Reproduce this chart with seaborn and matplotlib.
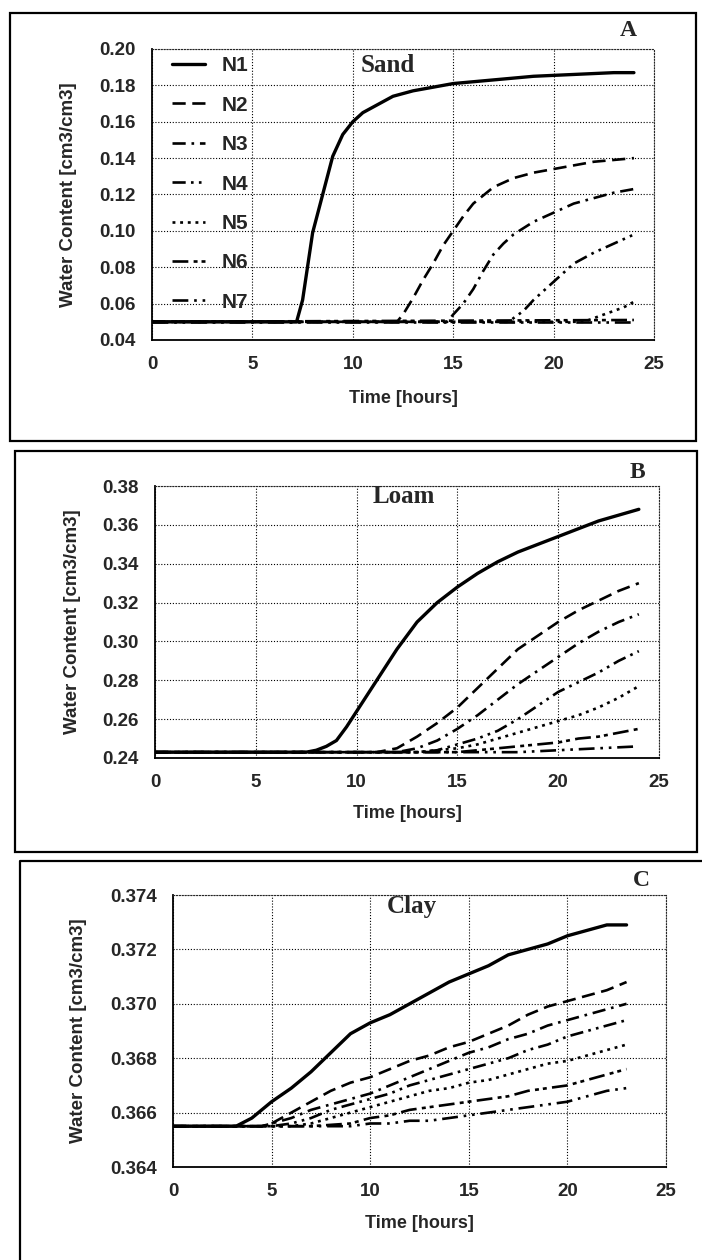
"""Water content curves for sand, loam and clay (three stacked panels)."""

import matplotlib.pyplot as plt
import pandas as pd
import seaborn as sns
from matplotlib.patches import Rectangle
from matplotlib.lines import Line2D

NODES = ["N1", "N2", "N3", "N4", "N5", "N6", "N7"]

# --- Sand ---
sand_n1_t = [0, 7.2, 7.5, 8, 8.5, 9, 9.5, 10, 10.5, 11, 12, 13, 14, 15, 16, 17, 18, 19, 20, 21, 22, 23, 24]
sand_n1 = [0.050, 0.050, 0.062, 0.099, 0.120, 0.141, 0.153, 0.160, 0.165, 0.168, 0.174, 0.177,
           0.179, 0.181, 0.182, 0.183, 0.184, 0.185, 0.1855, 0.186, 0.1865, 0.187, 0.187]
sand_n2_t = [0, 12.2, 12.5, 13, 13.5, 14, 14.5, 15, 15.5, 16, 17, 18, 19, 20, 21, 22, 23, 24]
sand_n2 = [0.050, 0.050, 0.054, 0.063, 0.073, 0.082, 0.092, 0.100, 0.108, 0.115, 0.124, 0.129,
           0.132, 0.134, 0.136, 0.138, 0.139, 0.140]
sand_n3_t = [0, 14.7, 15, 15.5, 16, 16.5, 17, 17.5, 18, 19, 20, 21, 22, 23, 24]
sand_n3 = [0.050, 0.050, 0.054, 0.060, 0.068, 0.078, 0.087, 0.093, 0.098, 0.105, 0.110, 0.115,
           0.118, 0.121, 0.123]
sand_n4_t = [0, 17.8, 18, 18.5, 19, 19.5, 20, 20.5, 21, 22, 23, 24]
sand_n4 = [0.050, 0.050, 0.052, 0.056, 0.062, 0.067, 0.072, 0.077, 0.082, 0.088, 0.093, 0.098]
sand_n5_t = [0, 21.5, 22, 22.5, 23, 23.5, 24]
sand_n5 = [0.050, 0.050, 0.052, 0.054, 0.056, 0.058, 0.061]
sand_n6_t = [0, 24]
sand_n6 = [0.050, 0.051]
sand_n7_t = [0, 24]
sand_n7 = [0.050, 0.050]

# --- Loam ---
loam_n1_t = [0, 7.5, 8, 8.5, 9, 9.5, 10, 10.5, 11, 11.5, 12, 13, 14, 15, 16, 17, 18, 19, 20, 21, 22, 23, 24]
loam_n1 = [0.243, 0.243, 0.244, 0.246, 0.249, 0.256, 0.264, 0.272, 0.280, 0.288, 0.296, 0.310,
           0.320, 0.328, 0.335, 0.341, 0.346, 0.350, 0.354, 0.358, 0.362, 0.365, 0.368]
loam_n2_t = [0, 11, 12, 13, 14, 15, 16, 17, 18, 19, 20, 21, 22, 23, 24]
loam_n2 = [0.243, 0.243, 0.245, 0.251, 0.258, 0.266, 0.276, 0.286, 0.296, 0.303, 0.310, 0.316,
           0.321, 0.326, 0.330]
loam_n3_t = [0, 12, 13, 14, 15, 16, 17, 18, 19, 20, 21, 22, 23, 24]
loam_n3 = [0.243, 0.243, 0.245, 0.249, 0.255, 0.262, 0.270, 0.278, 0.285, 0.292, 0.299, 0.305,
           0.310, 0.314]
loam_n4_t = [0, 13, 14, 15, 16, 17, 18, 19, 20, 21, 22, 23, 24]
loam_n4 = [0.243, 0.243, 0.244, 0.247, 0.250, 0.254, 0.260, 0.267, 0.274, 0.279, 0.284, 0.290, 0.295]
loam_n5_t = [0, 13, 14, 15, 16, 17, 18, 19, 20, 21, 22, 23, 24]
loam_n5 = [0.243, 0.243, 0.244, 0.245, 0.247, 0.250, 0.253, 0.256, 0.259, 0.262, 0.266, 0.271, 0.277]
loam_n6_t = [0, 15, 16, 18, 20, 21, 22, 23, 24]
loam_n6 = [0.243, 0.243, 0.244, 0.246, 0.248, 0.250, 0.251, 0.253, 0.255]
loam_n7_t = [0, 18, 20, 22, 24]
loam_n7 = [0.243, 0.243, 0.244, 0.245, 0.246]

# --- Clay ---
clay_n1_t = [0, 3.2, 4, 5, 6, 7, 8, 9, 10, 11, 12, 13, 14, 15, 16, 17, 18, 19, 20, 21, 22, 23]
clay_n1 = [0.3655, 0.3655, 0.3658, 0.3664, 0.3669, 0.3675, 0.3682, 0.3689, 0.3693, 0.3696, 0.3700,
           0.3704, 0.3708, 0.3711, 0.3714, 0.3718, 0.3720, 0.3722, 0.3725, 0.3727, 0.3729, 0.3729]
clay_n2_t = [0, 4.5, 5, 6, 7, 8, 9, 10, 11, 12, 13, 14, 15, 16, 17, 18, 19, 20, 21, 22, 23]
clay_n2 = [0.3655, 0.3655, 0.3656, 0.3660, 0.3664, 0.3668, 0.3671, 0.3673, 0.3676, 0.3679, 0.3681,
           0.3684, 0.3686, 0.3689, 0.3692, 0.3696, 0.3699, 0.3701, 0.3703, 0.3705, 0.3708]
clay_n3_t = [0, 4.5, 5, 6, 7, 8, 9, 10, 11, 12, 13, 14, 15, 16, 17, 18, 19, 20, 21, 22, 23]
clay_n3 = [0.3655, 0.3655, 0.3656, 0.3658, 0.3661, 0.3663, 0.3665, 0.3667, 0.3670, 0.3673, 0.3676,
           0.3679, 0.3682, 0.3684, 0.3687, 0.3689, 0.3692, 0.3694, 0.3696, 0.3698, 0.3700]
clay_n4_t = [0, 5, 6, 7, 8, 9, 10, 11, 12, 13, 14, 15, 16, 17, 18, 19, 20, 21, 22, 23]
clay_n4 = [0.3655, 0.3655, 0.3656, 0.3658, 0.3661, 0.3663, 0.3665, 0.3667, 0.3670, 0.3672, 0.3674,
           0.3676, 0.3678, 0.3680, 0.3683, 0.3685, 0.3688, 0.3690, 0.3692, 0.3694]
clay_n5_t = [0, 6, 7, 8, 9, 10, 11, 12, 13, 14, 15, 16, 17, 18, 19, 20, 21, 22, 23]
clay_n5 = [0.3655, 0.3655, 0.3656, 0.3658, 0.3660, 0.3662, 0.3664, 0.3666, 0.3668, 0.3669, 0.3671,
           0.3672, 0.3674, 0.3676, 0.3678, 0.3679, 0.3681, 0.3683, 0.3685]
clay_n6_t = [0, 7, 9, 10, 11, 12, 13, 14, 15, 16, 17, 18, 19, 20, 21, 22, 23]
clay_n6 = [0.3655, 0.3655, 0.3656, 0.3658, 0.3659, 0.3661, 0.3662, 0.3663, 0.3664, 0.3665, 0.3666,
           0.3668, 0.3669, 0.3670, 0.3672, 0.3674, 0.3676]
clay_n7_t = [0, 9, 10, 11, 12, 13, 14, 15, 16, 17, 18, 19, 20, 21, 22, 23]
clay_n7 = [0.3655, 0.3655, 0.3656, 0.3656, 0.3657, 0.3657, 0.3658, 0.3659, 0.3660, 0.3661, 0.3662,
           0.3663, 0.3664, 0.3666, 0.3668, 0.3669]

sand_yticks = [0.04, 0.06, 0.08, 0.10, 0.12, 0.14, 0.16, 0.18, 0.20]
loam_yticks = [0.24, 0.26, 0.28, 0.30, 0.32, 0.34, 0.36, 0.38]
clay_yticks = [0.364, 0.366, 0.368, 0.370, 0.372, 0.374]
xticks = [0, 5, 10, 15, 20, 25]

DASHES = {
    "N1": "",
    "N2": (5, 2.5),
    "N3": (5, 2.2, 1, 2.2),
    "N4": (5, 2, 1, 2, 1, 2),
    "N5": (1.1, 1.8),
    "N6": (6, 2, 1.5, 1.5, 1.5, 2),
    "N7": (6, 2.2, 1, 2.2, 1, 2.2),
}

W, H = 702, 1260
NARROW = ["Liberation Sans Narrow", "Liberation Sans", "DejaVu Sans"]
SERIF = ["Liberation Serif", "DejaVu Serif"]


def long_frame(times, values):
    rows = []
    for node, t, v in zip(NODES, times, values):
        rows += [{"node": node, "time": a, "theta": b} for a, b in zip(t, v)]
    return pd.DataFrame(rows)


def px(x, y):
    return x / W, 1 - y / H


def draw_panel(fig, rect, df, yticks, ydec, ylab_x, xlab_y, soil, soil_xy, letter, letter_xy, legend=False):
    ax = fig.add_axes(rect)
    sns.lineplot(data=df, x="time", y="theta", style="node", style_order=NODES, dashes=DASHES,
                 color="black", linewidth=1.9, estimator=None, sort=False, legend=False, ax=ax)
    ax.lines[0].set_linewidth(2.4)
    ax.set_xlim(0, 25)
    ax.set_ylim(yticks[0], yticks[-1])
    ax.set_xticks(xticks)
    ax.set_yticks(yticks)
    ax.set_yticklabels([f"{v:.{ydec}f}" for v in yticks])
    ax.grid(True, color="black", linestyle=(0, (1, 1.6)), linewidth=0.8)
    for s in ["top", "right"]:
        ax.spines[s].set_linestyle((0, (1, 1.6)))
        ax.spines[s].set_linewidth(0.8)
    for s in ["left", "bottom"]:
        ax.spines[s].set_linewidth(1.3)
        ax.spines[s].set_color("black")
    ax.tick_params(direction="inout", length=11, width=1.2, color="black", labelsize=13.5, pad=6)
    for lab in ax.get_xticklabels() + ax.get_yticklabels():
        lab.set_family(NARROW)
        lab.set_fontweight("bold")
    ax.set_xlabel("Time [hours]", fontsize=13, fontweight="bold", family=NARROW)
    ax.set_ylabel("Water Content [cm3/cm3]", fontsize=13.5, fontweight="bold", family=NARROW)
    ax.yaxis.set_label_coords(ylab_x, 0.5)
    ax.xaxis.set_label_coords(0.5, xlab_y)
    fig.text(*px(*soil_xy), soil, family=SERIF, fontweight="bold", fontsize=18, ha="center", va="center")
    fig.text(*px(*letter_xy), letter, family=SERIF, fontweight="bold", fontsize=17, ha="center", va="center")
    if legend:
        ax.legend(ax.lines[:7], NODES, loc="upper left", bbox_to_anchor=(0.04, 0.975), frameon=False,
                  prop={"family": NARROW, "weight": "bold", "size": 15}, labelspacing=0.98,
                  handlelength=1.6, handletextpad=0.8, borderpad=0, borderaxespad=0)
    return ax


sns.set_style("white")
plt.rcParams["font.family"] = NARROW

fig = plt.figure(figsize=(W / 100, H / 100), dpi=100)

sand = long_frame([sand_n1_t, sand_n2_t, sand_n3_t, sand_n4_t, sand_n5_t, sand_n6_t, sand_n7_t],
                  [sand_n1, sand_n2, sand_n3, sand_n4, sand_n5, sand_n6, sand_n7])
loam = long_frame([loam_n1_t, loam_n2_t, loam_n3_t, loam_n4_t, loam_n5_t, loam_n6_t, loam_n7_t],
                  [loam_n1, loam_n2, loam_n3, loam_n4, loam_n5, loam_n6, loam_n7])
clay = long_frame([clay_n1_t, clay_n2_t, clay_n3_t, clay_n4_t, clay_n5_t, clay_n6_t, clay_n7_t],
                  [clay_n1, clay_n2, clay_n3, clay_n4, clay_n5, clay_n6, clay_n7])

draw_panel(fig, [152 / W, 1 - 340 / H, 502 / W, 291 / H], sand, sand_yticks, 2, -0.15, -0.172,
           "Sand", (388, 65), "A", (628, 31), legend=True)
draw_panel(fig, [155 / W, 1 - 758 / H, 504 / W, 272 / H], loam, loam_yticks, 2, -0.146, -0.173,
           "Loam", (404, 497), "B", (637, 473))
draw_panel(fig, [173 / W, 1 - 1167 / H, 493 / W, 272 / H], clay, clay_yticks, 3, -0.174, -0.176,
           "Clay", (412, 907), "C", (641, 881))

# panel frames
for x0, y0, x1, y1 in [(10, 13, 696, 441), (15, 451, 697, 852)]:
    fig.patches.append(Rectangle(px(x0, y1), (x1 - x0) / W, (y1 - y0) / H, transform=fig.transFigure,
                                 fill=False, edgecolor="black", linewidth=1.6))
fig.add_artist(Line2D([20 / W, 20 / W, 1], [0, 1 - 861 / H, 1 - 861 / H], transform=fig.transFigure,
                      color="black", linewidth=1.6))

fig.savefig("out.png", dpi=100)
